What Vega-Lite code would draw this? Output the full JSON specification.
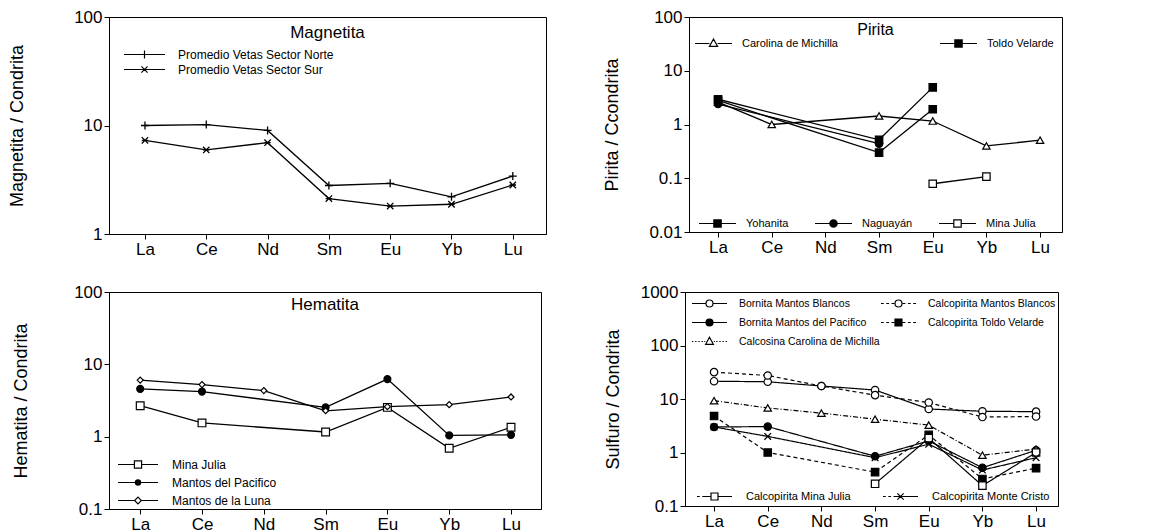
{
  "$schema": "https://vega.github.io/schema/vega-lite/v6.json",
  "background": "white",
  "padding": {"left": 8, "top": 7, "right": 5, "bottom": 0},
  "config": {
    "font": "Liberation Sans",
    "view": {"stroke": "black", "strokeWidth": 1},
    "axis": {"grid": false, "domainColor": "black", "tickColor": "black", "labelColor": "black", "titleColor": "black", "labelFontSize": 17, "titleFontSize": 18, "titleFontWeight": "normal", "tickSize": 5, "labelPadding": 2},
    "axisX": {"labelAngle": 0, "labelFontSize": 17, "title": null},
    "title": {"fontSize": 17, "fontWeight": "normal", "color": "black", "anchor": "middle"},
    "legend": {"labelColor": "black", "labelLimit": 500, "padding": 0, "orient": "none", "title": null, "gridAlign": "each", "symbolOpacity": 1, "symbolStrokeColor": "black", "symbolStrokeWidth": 1.2, "symbolFillColor": "transparent"}
  },
  "datasets": {
    "mag": [
      {"s": "Promedio Vetas Sector Norte", "el": "La", "v": 10},
      {"s": "Promedio Vetas Sector Norte", "el": "Ce", "v": 10.2},
      {"s": "Promedio Vetas Sector Norte", "el": "Nd", "v": 9.0},
      {"s": "Promedio Vetas Sector Norte", "el": "Sm", "v": 2.8},
      {"s": "Promedio Vetas Sector Norte", "el": "Eu", "v": 2.93},
      {"s": "Promedio Vetas Sector Norte", "el": "Yb", "v": 2.2},
      {"s": "Promedio Vetas Sector Norte", "el": "Lu", "v": 3.42},
      {"s": "Promedio Vetas Sector Sur", "el": "La", "v": 7.3},
      {"s": "Promedio Vetas Sector Sur", "el": "Ce", "v": 5.95},
      {"s": "Promedio Vetas Sector Sur", "el": "Nd", "v": 6.95},
      {"s": "Promedio Vetas Sector Sur", "el": "Sm", "v": 2.12},
      {"s": "Promedio Vetas Sector Sur", "el": "Eu", "v": 1.81},
      {"s": "Promedio Vetas Sector Sur", "el": "Yb", "v": 1.88},
      {"s": "Promedio Vetas Sector Sur", "el": "Lu", "v": 2.83}
    ],
    "pir": [
      {"s": "Carolina de Michilla", "el": "La", "v": 2.6},
      {"s": "Carolina de Michilla", "el": "Ce", "v": 1.0},
      {"s": "Carolina de Michilla", "el": "Sm", "v": 1.44},
      {"s": "Carolina de Michilla", "el": "Eu", "v": 1.16},
      {"s": "Carolina de Michilla", "el": "Yb", "v": 0.4},
      {"s": "Carolina de Michilla", "el": "Lu", "v": 0.51},
      {"s": "Toldo Velarde", "el": "La", "v": 2.8},
      {"s": "Toldo Velarde", "el": "Sm", "v": 0.3},
      {"s": "Toldo Velarde", "el": "Eu", "v": 1.92},
      {"s": "Yohanita", "el": "La", "v": 2.95},
      {"s": "Yohanita", "el": "Sm", "v": 0.52},
      {"s": "Yohanita", "el": "Eu", "v": 4.9},
      {"s": "Naguayán", "el": "La", "v": 2.4},
      {"s": "Naguayán", "el": "Sm", "v": 0.44},
      {"s": "Mina Julia", "el": "Eu", "v": 0.079},
      {"s": "Mina Julia", "el": "Yb", "v": 0.107}
    ],
    "hem": [
      {"s": "Mina Julia", "el": "La", "v": 2.68},
      {"s": "Mina Julia", "el": "Ce", "v": 1.55},
      {"s": "Mina Julia", "el": "Sm", "v": 1.16},
      {"s": "Mina Julia", "el": "Eu", "v": 2.54},
      {"s": "Mina Julia", "el": "Yb", "v": 0.69},
      {"s": "Mina Julia", "el": "Lu", "v": 1.35},
      {"s": "Mantos del Pacifico", "el": "La", "v": 4.57},
      {"s": "Mantos del Pacifico", "el": "Ce", "v": 4.2},
      {"s": "Mantos del Pacifico", "el": "Sm", "v": 2.54},
      {"s": "Mantos del Pacifico", "el": "Eu", "v": 6.25},
      {"s": "Mantos del Pacifico", "el": "Yb", "v": 1.04},
      {"s": "Mantos del Pacifico", "el": "Lu", "v": 1.06},
      {"s": "Mantos de la Luna", "el": "La", "v": 6.05},
      {"s": "Mantos de la Luna", "el": "Ce", "v": 5.25},
      {"s": "Mantos de la Luna", "el": "Nd", "v": 4.34},
      {"s": "Mantos de la Luna", "el": "Sm", "v": 2.28},
      {"s": "Mantos de la Luna", "el": "Eu", "v": 2.6},
      {"s": "Mantos de la Luna", "el": "Yb", "v": 2.77},
      {"s": "Mantos de la Luna", "el": "Lu", "v": 3.54}
    ],
    "sul": [
      {"s": "Bornita Mantos Blancos", "el": "La", "v": 21.5},
      {"s": "Bornita Mantos Blancos", "el": "Ce", "v": 21},
      {"s": "Bornita Mantos Blancos", "el": "Nd", "v": 17.5},
      {"s": "Bornita Mantos Blancos", "el": "Sm", "v": 14.7},
      {"s": "Bornita Mantos Blancos", "el": "Eu", "v": 6.5},
      {"s": "Bornita Mantos Blancos", "el": "Yb", "v": 5.9},
      {"s": "Bornita Mantos Blancos", "el": "Lu", "v": 5.8},
      {"s": "Calcopirita Mantos Blancos", "el": "La", "v": 31.8},
      {"s": "Calcopirita Mantos Blancos", "el": "Ce", "v": 27.5},
      {"s": "Calcopirita Mantos Blancos", "el": "Nd", "v": 17.5},
      {"s": "Calcopirita Mantos Blancos", "el": "Sm", "v": 11.8},
      {"s": "Calcopirita Mantos Blancos", "el": "Eu", "v": 8.6},
      {"s": "Calcopirita Mantos Blancos", "el": "Yb", "v": 4.6},
      {"s": "Calcopirita Mantos Blancos", "el": "Lu", "v": 4.7},
      {"s": "Bornita Mantos del Pacifico", "el": "La", "v": 3.0},
      {"s": "Bornita Mantos del Pacifico", "el": "Ce", "v": 3.05},
      {"s": "Bornita Mantos del Pacifico", "el": "Sm", "v": 0.85},
      {"s": "Bornita Mantos del Pacifico", "el": "Eu", "v": 1.65},
      {"s": "Bornita Mantos del Pacifico", "el": "Yb", "v": 0.52},
      {"s": "Bornita Mantos del Pacifico", "el": "Lu", "v": 1.1},
      {"s": "Calcopirita Toldo Velarde", "el": "La", "v": 4.8},
      {"s": "Calcopirita Toldo Velarde", "el": "Ce", "v": 1.0},
      {"s": "Calcopirita Toldo Velarde", "el": "Sm", "v": 0.43},
      {"s": "Calcopirita Toldo Velarde", "el": "Eu", "v": 2.13},
      {"s": "Calcopirita Toldo Velarde", "el": "Yb", "v": 0.32},
      {"s": "Calcopirita Toldo Velarde", "el": "Lu", "v": 0.51},
      {"s": "Calcosina Carolina de Michilla", "el": "La", "v": 9.3},
      {"s": "Calcosina Carolina de Michilla", "el": "Ce", "v": 6.8},
      {"s": "Calcosina Carolina de Michilla", "el": "Nd", "v": 5.45},
      {"s": "Calcosina Carolina de Michilla", "el": "Sm", "v": 4.2},
      {"s": "Calcosina Carolina de Michilla", "el": "Eu", "v": 3.25},
      {"s": "Calcosina Carolina de Michilla", "el": "Yb", "v": 0.89},
      {"s": "Calcosina Carolina de Michilla", "el": "Lu", "v": 1.16},
      {"s": "Calcopirita Mina Julia", "el": "Sm", "v": 0.26},
      {"s": "Calcopirita Mina Julia", "el": "Eu", "v": 1.85},
      {"s": "Calcopirita Mina Julia", "el": "Yb", "v": 0.24},
      {"s": "Calcopirita Mina Julia", "el": "Lu", "v": 1.0},
      {"s": "Calcopirita Monte Cristo", "el": "La", "v": 3.0},
      {"s": "Calcopirita Monte Cristo", "el": "Ce", "v": 2.0},
      {"s": "Calcopirita Monte Cristo", "el": "Sm", "v": 0.8},
      {"s": "Calcopirita Monte Cristo", "el": "Eu", "v": 1.43},
      {"s": "Calcopirita Monte Cristo", "el": "Yb", "v": 0.47},
      {"s": "Calcopirita Monte Cristo", "el": "Lu", "v": 0.8}
    ]
  },
  "columns": 2,
  "align": "none",
  "spacing": {"row": 24, "column": 56},
  "resolve": {"scale": {"shape": "independent", "fill": "independent", "strokeDash": "independent", "size": "independent"}},
  "concat": [
    {
      "width": 437, "height": 217,
      "data": {"name": "mag"},
      "title": {"text": "Magnetita", "offset": -34},
      "encoding": {
        "x": {"field": "el", "type": "ordinal", "scale": {"type": "point", "domain": ["La", "Ce", "Nd", "Sm", "Eu", "Yb", "Lu"], "padding": 0.564, "align": 0.52}},
        "y": {"field": "v", "type": "quantitative", "scale": {"type": "log", "domain": [1, 100], "nice": false}, "axis": {"values": [1, 10, 100], "format": "~g", "title": "Magnetita / Condrita", "titlePadding": 47}}
      },
      "layer": [
        {"mark": {"type": "line", "color": "black", "strokeWidth": 1.3}, "encoding": {"detail": {"field": "s"}, "order": {"value": null}}},
        {"mark": {"type": "point", "color": "black", "size": 64, "strokeWidth": 1.3, "opacity": 1},
         "encoding": {"shape": {"field": "s", "type": "nominal", "legend": null,
           "scale": {"domain": ["Promedio Vetas Sector Norte", "Promedio Vetas Sector Sur"], "range": ["M-1,0H1M0,-1V1", "M-0.8,-0.8L0.8,0.8M-0.8,0.8L0.8,-0.8M-0.8,0H0.8"]}}}},
        {"mark": {"type": "point", "color": "black", "opacity": 0},
         "encoding": {"shape": {"field": "s", "type": "nominal",
           "scale": {"domain": ["Promedio Vetas Sector Norte", "Promedio Vetas Sector Sur"], "range": ["M-1,0H1M0,-0.2V0.2", "M-1,0H1M-0.15,-0.15L0.15,0.15M-0.15,0.15L0.15,-0.15"]},
           "legend": {"legendX": 14, "legendY": 30, "clipHeight": 15, "symbolSize": 1681, "labelFontSize": 12, "labelOffset": 12, "rowPadding": 0}}}}
      ],
      "resolve": {"scale": {"shape": "independent"}}
    },
    {
      "width": 373, "height": 215,
      "data": {"name": "pir"},
      "title": {"text": "Pirita", "offset": -30, "fontSize": 16},
      "encoding": {
        "x": {"field": "el", "type": "ordinal", "scale": {"type": "point", "domain": ["La", "Ce", "Nd", "Sm", "Eu", "Yb", "Lu"], "padding": 0.475, "align": 0.57}},
        "y": {"field": "v", "type": "quantitative", "scale": {"type": "log", "domain": [0.01, 100], "nice": false}, "axis": {"values": [0.01, 0.1, 1, 10, 100], "format": "~g", "title": "Pirita / Ccondrita", "titlePadding": 27}}
      },
      "layer": [
        {"mark": {"type": "line", "color": "black", "strokeWidth": 1.3}, "encoding": {"detail": {"field": "s"}, "order": {"value": null}}},
        {"mark": {"type": "point", "color": "black", "size": 55, "strokeWidth": 1.2, "opacity": 1},
         "encoding": {
           "fill": {"field": "s", "type": "nominal", "legend": null, "scale": {"domain": ["Carolina de Michilla", "Toldo Velarde", "Yohanita", "Naguayán", "Mina Julia"], "range": ["white", "black", "black", "black", "white"]}},
           "shape": {"field": "s", "type": "nominal", "legend": null, "scale": {"domain": ["Carolina de Michilla", "Toldo Velarde", "Yohanita", "Naguayán", "Mina Julia"], "range": ["triangle-up", "square", "square", "circle", "square"]}}}},
        {"transform": [{"filter": {"field": "s", "oneOf": ["Carolina de Michilla", "Toldo Velarde"]}}],
         "mark": {"type": "point", "color": "black", "opacity": 0},
         "encoding": {"shape": {"field": "s", "type": "nominal",
           "scale": {"domain": ["Carolina de Michilla", "Toldo Velarde"], "range": [
             "M-1,0H-0.22M0.22,0H1M0,-0.24L0.22,0.16H-0.22Z",
             "M-1,0H-0.22M0.22,0H1M-0.2,-0.2H0.2V0.2H-0.2ZM-0.2,-0.15H0.2M-0.2,-0.1H0.2M-0.2,-0.05H0.2M-0.2,0H0.2M-0.2,0.05H0.2M-0.2,0.1H0.2M-0.2,0.15H0.2"]},
           "legend": {"legendX": 5, "legendY": 19, "clipHeight": 15, "columns": 2, "direction": "horizontal", "columnPadding": 101, "symbolSize": 1369, "labelFontSize": 11, "labelOffset": 9}}}},
        {"transform": [{"filter": {"field": "s", "oneOf": ["Yohanita", "Naguayán", "Mina Julia"]}}],
         "mark": {"type": "point", "color": "black", "opacity": 0},
         "encoding": {"shape": {"field": "s", "type": "nominal",
           "scale": {"domain": ["Yohanita", "Naguayán", "Mina Julia"], "range": [
             "M-1,0H-0.22M0.22,0H1M-0.2,-0.2H0.2V0.2H-0.2ZM-0.2,-0.15H0.2M-0.2,-0.1H0.2M-0.2,-0.05H0.2M-0.2,0H0.2M-0.2,0.05H0.2M-0.2,0.1H0.2M-0.2,0.15H0.2",
             "M-1,0H-0.22M0.22,0H1M0.2,0A0.2,0.2,0,1,1,-0.2,0A0.2,0.2,0,1,1,0.2,0ZM-0.13,-0.15H0.13M-0.17,-0.1H0.17M-0.19,-0.05H0.19M-0.2,0H0.2M-0.19,0.05H0.19M-0.17,0.1H0.17M-0.13,0.15H0.13",
             "M-1,0H-0.22M0.22,0H1M-0.2,-0.2H0.2V0.2H-0.2Z"]},
           "legend": {"legendX": 9, "legendY": 199, "clipHeight": 15, "columns": 3, "direction": "horizontal", "columnPadding": 25, "symbolSize": 1369, "labelFontSize": 11, "labelOffset": 9}}}}
      ],
      "resolve": {"scale": {"shape": "independent"}}
    },
    {
      "width": 432, "height": 217,
      "data": {"name": "hem"},
      "title": {"text": "Hematita", "offset": -31},
      "encoding": {
        "x": {"field": "el", "type": "ordinal", "scale": {"type": "point", "domain": ["La", "Ce", "Nd", "Sm", "Eu", "Yb", "Lu"], "padding": 0.495, "align": 0.51}},
        "y": {"field": "v", "type": "quantitative", "scale": {"type": "log", "domain": [0.1, 100], "nice": false}, "axis": {"values": [0.1, 1, 10, 100], "format": "~g", "title": "Hematita / Condrita", "titlePadding": 43}}
      },
      "layer": [
        {"mark": {"type": "line", "color": "black", "strokeWidth": 1.3}, "encoding": {"detail": {"field": "s"}, "order": {"value": null}}},
        {"mark": {"type": "point", "color": "black", "strokeWidth": 1.2, "opacity": 1},
         "encoding": {
           "size": {"field": "s", "type": "nominal", "legend": null, "scale": {"domain": ["Mina Julia", "Mantos del Pacifico", "Mantos de la Luna"], "range": [60, 36, 40]}},
           "fill": {"field": "s", "type": "nominal", "legend": null, "scale": {"domain": ["Mina Julia", "Mantos del Pacifico", "Mantos de la Luna"], "range": ["white", "black", "white"]}},
           "shape": {"field": "s", "type": "nominal", "legend": null, "scale": {"domain": ["Mina Julia", "Mantos del Pacifico", "Mantos de la Luna"], "range": ["square", "circle", "diamond"]}}}},
        {"mark": {"type": "point", "color": "black", "opacity": 0},
         "encoding": {"shape": {"field": "s", "type": "nominal",
           "scale": {"domain": ["Mina Julia", "Mantos del Pacifico", "Mantos de la Luna"], "range": [
             "M-1,0H-0.2M0.2,0H1M-0.18,-0.18H0.18V0.18H-0.18Z",
             "M-1,0H1M0.13,0A0.13,0.13,0,1,1,-0.13,0A0.13,0.13,0,1,1,0.13,0ZM-0.08,-0.1H0.08M-0.12,-0.05H0.12M-0.12,0.05H0.12M-0.08,0.1H0.08",
             "M-1,0H-0.17M0.17,0H1M0,-0.17L0.17,0L0,0.17L-0.17,0Z"]},
           "legend": {"legendX": 8, "legendY": 164, "clipHeight": 17, "symbolSize": 1600, "labelFontSize": 12, "labelOffset": 13, "rowPadding": 1}}}}
      ],
      "resolve": {"scale": {"shape": "independent"}}
    },
    {
      "width": 373, "height": 214,
      "data": {"name": "sul"},
      "encoding": {
        "x": {"field": "el", "type": "ordinal", "scale": {"type": "point", "domain": ["La", "Ce", "Nd", "Sm", "Eu", "Yb", "Lu"], "padding": 0.475, "align": 0.57}},
        "y": {"field": "v", "type": "quantitative", "scale": {"type": "log", "domain": [0.1, 1000], "nice": false}, "axis": {"values": [0.1, 1, 10, 100, 1000], "format": "~g", "title": "Sulfuro / Condrita", "titlePadding": 18}}
      },
      "layer": [
        {"mark": {"type": "line", "color": "black", "strokeWidth": 1.2},
         "encoding": {"detail": {"field": "s"}, "order": {"value": null},
           "strokeDash": {"field": "s", "type": "nominal", "legend": null, "scale": {"domain": ["Bornita Mantos Blancos", "Calcopirita Mantos Blancos", "Bornita Mantos del Pacifico", "Calcopirita Toldo Velarde", "Calcosina Carolina de Michilla", "Calcopirita Mina Julia", "Calcopirita Monte Cristo"], "range": [[1, 0], [4, 3], [1, 0], [4, 3], [5, 2, 1, 2], [1, 0], [1, 0]]}}}},
        {"mark": {"type": "point", "color": "black", "size": 55, "strokeWidth": 1.2, "opacity": 1},
         "encoding": {
           "fill": {"field": "s", "type": "nominal", "legend": null, "scale": {"domain": ["Bornita Mantos Blancos", "Calcopirita Mantos Blancos", "Bornita Mantos del Pacifico", "Calcopirita Toldo Velarde", "Calcosina Carolina de Michilla", "Calcopirita Mina Julia", "Calcopirita Monte Cristo"], "range": ["white", "white", "black", "black", "white", "white", "transparent"]}},
           "shape": {"field": "s", "type": "nominal", "legend": null, "scale": {"domain": ["Bornita Mantos Blancos", "Calcopirita Mantos Blancos", "Bornita Mantos del Pacifico", "Calcopirita Toldo Velarde", "Calcosina Carolina de Michilla", "Calcopirita Mina Julia", "Calcopirita Monte Cristo"], "range": ["circle", "circle", "circle", "square", "triangle-up", "square", "M-0.9,-0.9L0.9,0.9M-0.9,0.9L0.9,-0.9"]}}}},
        {"transform": [{"filter": {"field": "s", "oneOf": ["Bornita Mantos Blancos", "Calcopirita Mantos Blancos", "Bornita Mantos del Pacifico", "Calcopirita Toldo Velarde", "Calcosina Carolina de Michilla"]}}],
         "mark": {"type": "point", "color": "black", "opacity": 0},
         "encoding": {"shape": {"field": "s", "type": "nominal",
           "scale": {"domain": ["Bornita Mantos Blancos", "Calcopirita Mantos Blancos", "Bornita Mantos del Pacifico", "Calcopirita Toldo Velarde", "Calcosina Carolina de Michilla"], "range": [
             "M-1,0H-0.22M0.22,0H1M0.2,0A0.2,0.2,0,1,1,-0.2,0A0.2,0.2,0,1,1,0.2,0Z",
             "M-1,0H-0.84M-0.7,0H-0.54M-0.4,0H-0.24M0.24,0H0.4M0.54,0H0.7M0.84,0H1M0.2,0A0.2,0.2,0,1,1,-0.2,0A0.2,0.2,0,1,1,0.2,0Z",
             "M-1,0H-0.22M0.22,0H1M0.2,0A0.2,0.2,0,1,1,-0.2,0A0.2,0.2,0,1,1,0.2,0ZM-0.13,-0.15H0.13M-0.17,-0.1H0.17M-0.19,-0.05H0.19M-0.2,0H0.2M-0.19,0.05H0.19M-0.17,0.1H0.17M-0.13,0.15H0.13",
             "M-1,0H-0.84M-0.7,0H-0.54M-0.4,0H-0.24M0.24,0H0.4M0.54,0H0.7M0.84,0H1M-0.2,-0.2H0.2V0.2H-0.2ZM-0.2,-0.15H0.2M-0.2,-0.1H0.2M-0.2,-0.05H0.2M-0.2,0H0.2M-0.2,0.05H0.2M-0.2,0.1H0.2M-0.2,0.15H0.2",
             "M-1,0H-0.92M-0.82,0H-0.74M-0.64,0H-0.56M-0.46,0H-0.38M-0.3,0H-0.24M0.24,0H0.3M0.38,0H0.46M0.56,0H0.64M0.74,0H0.82M0.92,0H1M0,-0.24L0.22,0.16H-0.22Z"]},
           "legend": {"legendX": 6, "legendY": 2, "clipHeight": 19, "columns": 2, "direction": "horizontal", "columnPadding": 0, "symbolSize": 1225, "labelFontSize": 10.5, "labelOffset": 11, "rowPadding": 0}}}},
        {"transform": [{"filter": {"field": "s", "oneOf": ["Calcopirita Mina Julia", "Calcopirita Monte Cristo"]}}],
         "mark": {"type": "point", "color": "black", "opacity": 0},
         "encoding": {"shape": {"field": "s", "type": "nominal",
           "scale": {"domain": ["Calcopirita Mina Julia", "Calcopirita Monte Cristo"], "range": [
             "M-1,0H-0.84M-0.7,0H-0.22M0.22,0H1M-0.2,-0.2H0.2V0.2H-0.2Z",
             "M-1,0H-0.84M-0.7,0H-0.54M-0.4,0H1M-0.18,-0.18L0.18,0.18M-0.18,0.18L0.18,-0.18"]},
           "legend": {"legendX": 11, "legendY": 197, "clipHeight": 15, "columns": 2, "direction": "horizontal", "columnPadding": 31, "symbolSize": 1225, "labelFontSize": 11, "labelOffset": 13}}}}
      ],
      "resolve": {"scale": {"shape": "independent"}}
    }
  ]
}
